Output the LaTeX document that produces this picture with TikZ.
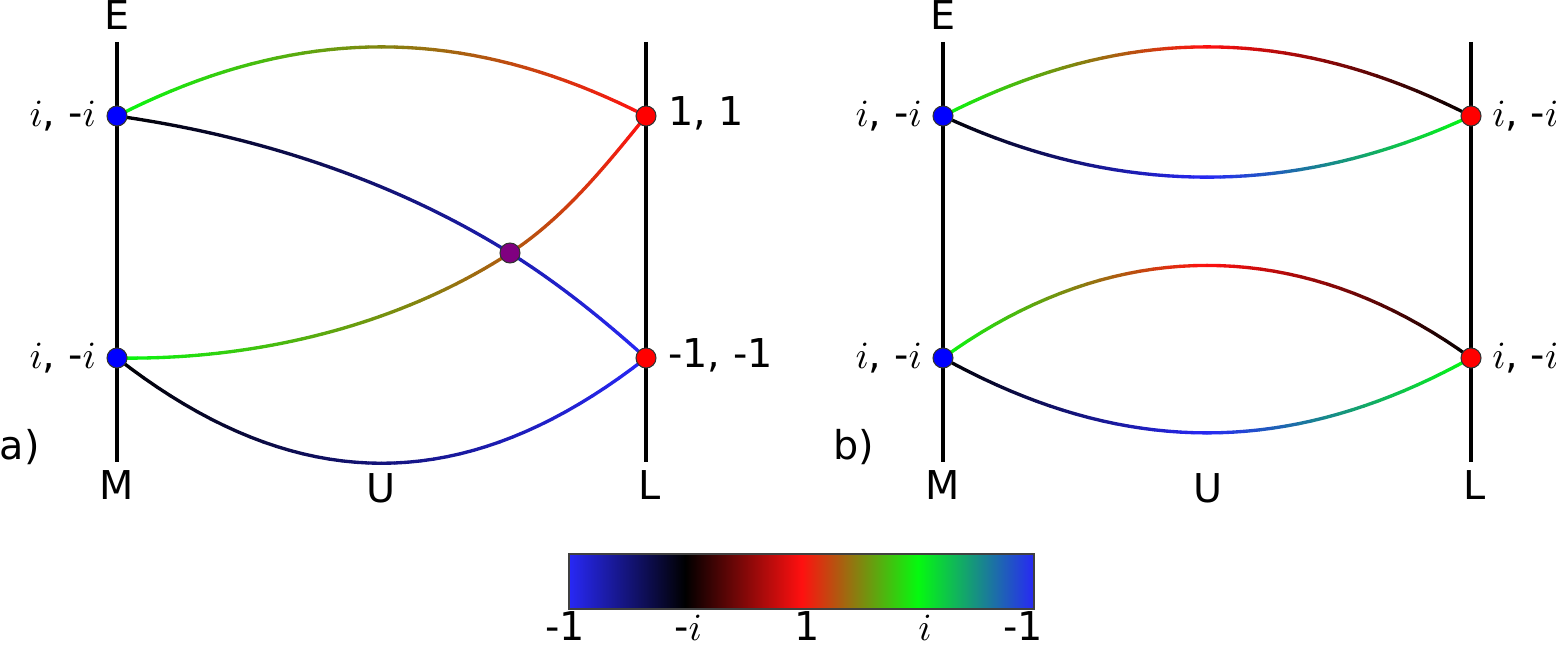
\documentclass[tikz,border=0pt]{standalone}
\usepackage{fontspec}
\setmainfont{DejaVu Sans}
\usetikzlibrary{positioning}

\definecolor{cbblue}{RGB}{40,40,245}
\definecolor{cbred}{RGB}{255,16,16}
\definecolor{cbgreen}{RGB}{5,250,15}
\definecolor{xpurple}{RGB}{128,0,128}
\colorlet{st0}{cbblue}
\colorlet{st1}{black}
\colorlet{st2}{cbred}
\colorlet{st3}{cbgreen}
\colorlet{st4}{cbblue}

\pgfdeclarehorizontalshading{phasebar}{100bp}{color(0bp)=(cbblue); color(25bp)=(cbblue); color(37.5bp)=(black); color(50bp)=(cbred); color(62.5bp)=(cbgreen); color(75bp)=(cbblue); color(100bp)=(cbblue)}

% phase-coloured link: start, out, in, distance, end, phase at start, phase at end
\newcommand{\phaselink}[7]{%
  \foreach \k in {1,...,40}{%
    \pgfmathsetmacro\ta{(\k-1)/40}%
    \pgfmathsetmacro\tb{\k/40}%
    \pgfmathsetmacro\uu{mod(#6+(#7-#6)*(\k-0.5)/40+4,1)}%
    \pgfmathtruncatemacro\ss{floor(4*\uu)}%
    \pgfmathtruncatemacro\sn{\ss+1}%
    \pgfmathsetmacro\pp{100*(\ss+1-4*\uu)}%
    \colorlet{segc}{st\ss!\pp!st\sn}%
    \path (#1) to[out=#2,in=#3,distance=#4cm] node[coordinate,pos=\ta] (pa) {} node[coordinate,pos=\tb] (pb) {} (#5);%
    \draw[phase, draw=segc] (pa) -- (pb);%
  }}

\begin{document}
\begin{tikzpicture}[
  axisline/.style={line width=1.2pt, black},
  phase/.style={line width=0.95pt, line cap=round},
  dot/.style={circle, draw=black!80, line width=0.3pt, inner sep=0pt, minimum size=0.2cm},
  bdot/.style={dot, fill=blue},
  rdot/.style={dot, fill=red},
  pdot/.style={dot, fill=xpurple},
  lab/.style={font=\fontsize{11.3}{13}\selectfont, inner sep=0pt},
  bar/.style={draw=black!75, line width=0.6pt, shading=phasebar, inner sep=0pt}]
  \useasboundingbox (0,0) rectangle (15.56,6.47);
  % axes
  \foreach \p/\x in {a/1.17, A/6.46, b/9.43, B/14.71}{
    \coordinate (\p top) at (\x,6.05);
    \coordinate (\p bot) at (\x,1.85);
    \draw[axisline] (\p top) -- (\p bot);}
  % points, panel a
  \coordinate (aUL) at (1.17,5.31);
  \coordinate (aLL) at (1.17,2.89);
  \coordinate (aUR) at (6.46,5.31);
  \coordinate (aLR) at (6.46,2.89);
  \coordinate (aX) at (5.10,3.94);
  % points, panel b
  \coordinate (bUL) at (9.43,5.31);
  \coordinate (bLL) at (9.43,2.89);
  \coordinate (bUR) at (14.71,5.31);
  \coordinate (bLR) at (14.71,2.89);
  % links, panel a
  \phaselink{aUL}{27}{153}{2.03}{aUR}{0.75}{0.5}
  \phaselink{aLL}{-38}{-142}{2.28}{aLR}{0.25}{0}
  \phaselink{aUL}{-8}{148}{1.39}{aX}{0.25}{0.07}
  \phaselink{aX}{-32}{138}{0.57}{aLR}{0.07}{0}
  \phaselink{aLL}{-1}{213}{1.36}{aX}{0.75}{0.58}
  \phaselink{aX}{33}{231}{0.64}{aUR}{0.58}{0.5}
  % links, panel b
  \phaselink{bUL}{27}{153}{2.03}{bUR}{0.75}{0.25}
  \phaselink{bUL}{-25}{-155}{1.93}{bUR}{0.25}{-0.25}
  \phaselink{bLL}{36}{144}{2.10}{bLR}{0.75}{0.25}
  \phaselink{bLL}{-29}{-151}{2.06}{bLR}{0.25}{-0.25}
  % vertices
  \node[bdot] (aULdot) at (aUL) {};
  \node[bdot] (aLLdot) at (aLL) {};
  \node[rdot] (aURdot) at (aUR) {};
  \node[rdot] (aLRdot) at (aLR) {};
  \node[pdot] (aXdot) at (aX) {};
  \node[bdot] (bULdot) at (bUL) {};
  \node[bdot] (bLLdot) at (bLL) {};
  \node[rdot] (bURdot) at (bUR) {};
  \node[rdot] (bLRdot) at (bLR) {};
  % vertex labels
  \node[lab, anchor=base east] (aULlab) at ([xshift=-0.1cm,yshift=-0.11cm]aULdot.west) {$i$, -$i$};
  \node[lab, anchor=base east] (aLLlab) at ([xshift=-0.1cm,yshift=-0.11cm]aLLdot.west) {$i$, -$i$};
  \node[lab, anchor=base west] (aURlab) at ([xshift=0.11cm,yshift=-0.1cm]aURdot.east) {1, 1};
  \node[lab, anchor=base west] (aLRlab) at ([xshift=0.11cm,yshift=-0.1cm]aLRdot.east) {-1, -1};
  \node[lab, anchor=base east] (bULlab) at ([xshift=-0.1cm,yshift=-0.11cm]bULdot.west) {$i$, -$i$};
  \node[lab, anchor=base east] (bLLlab) at ([xshift=-0.1cm,yshift=-0.11cm]bLLdot.west) {$i$, -$i$};
  \node[lab, anchor=base west] (bURlab) at ([xshift=0.1cm,yshift=-0.11cm]bURdot.east) {$i$, -$i$};
  \node[lab, anchor=base west] (bLRlab) at ([xshift=0.1cm,yshift=-0.11cm]bLRdot.east) {$i$, -$i$};
  % axis labels
  \node[lab] (aE) at (1.17,6.32) {E};
  \node[lab] (aM) at (1.17,1.615) {M};
  \node[lab] (aU) at (3.81,1.59) {U};
  \node[lab] (aL) at (6.50,1.615) {L};
  \node[lab, anchor=base west] (aTag) at (-0.01,1.87) {a)};
  \node[lab] (bE) at (9.43,6.32) {E};
  \node[lab] (bM) at (9.43,1.615) {M};
  \node[lab] (bU) at (12.08,1.59) {U};
  \node[lab] (bL) at (14.75,1.615) {L};
  \node[lab, anchor=base west] (bTag) at (8.33,1.87) {b)};
  % colour bar
  \node[bar, minimum width=4.65cm, minimum height=0.55cm] (cbar) at (8.015,0.655) {};
  \foreach \t/\x [count=\k] in {-1/5.65, -$i$/6.88, 1/8.07, $i$/9.25, -1/10.23}
    \node[lab, anchor=base] (tick\k) at (\x,0.06) {\t};
\end{tikzpicture}
\end{document}
